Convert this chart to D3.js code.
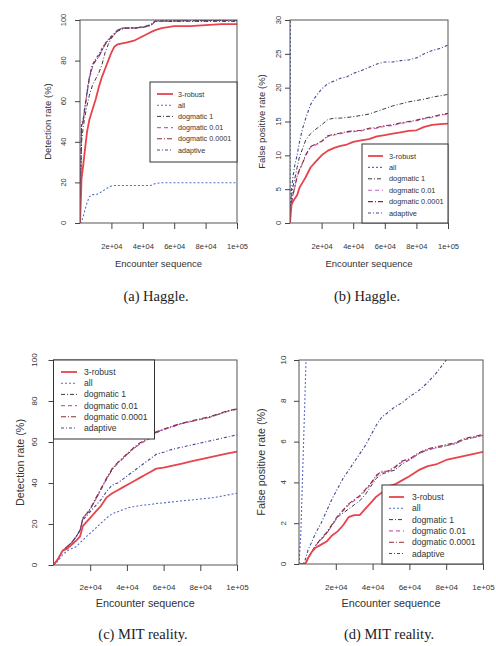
<!DOCTYPE html>
<html>
<head>
<meta charset="utf-8">
<script src="https://cdn.jsdelivr.net/npm/d3@7/dist/d3.min.js"></script>
<style>
  html, body { margin: 0; padding: 0; background: #ffffff; }
  svg { display: block; }
</style>
</head>
<body>
<svg id="chart" width="496" height="646"></svg>
<script>
// ---------------- DATA ----------------
const seriesNames = ["3-robust", "all", "dogmatic 1", "dogmatic 0.01", "dogmatic 0.0001", "adaptive"];
const xTickValues = [20000, 40000, 60000, 80000, 100000];
const xTickLabels = ["2e+04", "4e+04", "6e+04", "8e+04", "1e+05"];
const detTicks = [0, 20, 40, 60, 80, 100];
const fprHaggleTicks = [0, 5, 10, 15, 20, 25, 30];
const fprMitTicks = [0, 2, 4, 6, 8, 10];

// (a) Haggle detection rate
const hagDetX = [0, 500, 1000, 2000, 3000, 4500, 6000, 8000, 10000, 12000, 14000, 16000, 18000, 20000, 22000, 24000, 27000, 30000, 35000, 40000, 45000, 48000, 52000, 60000, 70000, 80000, 90000, 100000];
const hagDetRobust = [0, 10, 22, 28, 35, 45, 51, 56, 61, 67, 72, 76, 80, 84, 87, 88, 88.5, 89, 90, 92, 94, 95, 96, 97, 97, 97.5, 98, 98];
const hagDetAll = [0, 0, 1, 3, 6, 10, 13, 14, 14, 14.5, 15.5, 16.5, 17.5, 18.2, 18.5, 18.5, 18.5, 18.5, 18.5, 18.5, 18.5, 19.5, 19.8, 19.8, 19.8, 19.8, 19.8, 19.8];
const hagDetDog1 = [0, 20, 40, 47, 52, 58, 63, 68, 71, 74, 78, 84, 88, 91, 93, 94.5, 95.5, 96, 96, 96.3, 97.2, 99.2, 99.3, 99.3, 99.3, 99.3, 99.3, 99.3];
const hagDetDog001 = [0, 24, 47, 50, 56, 64, 71, 77, 80, 82, 85, 88, 90, 91.5, 93, 95, 96, 96, 96, 96.5, 97.5, 99.4, 99.5, 99.5, 99.6, 99.6, 99.7, 99.7];
const hagDetDog00001 = [0, 25, 48, 50, 56, 64, 72, 78, 80, 82, 85, 88, 90, 91.5, 93, 95, 96, 96, 96, 96.5, 97.5, 99.5, 99.5, 99.5, 99.7, 99.7, 99.8, 99.8];
const hagDetAdaptive = [0, 26, 49, 51, 57, 65, 72, 78, 81, 83, 86, 88.5, 90.5, 92, 93.5, 95, 96, 96.2, 96.2, 96.7, 97.7, 99.6, 99.6, 99.6, 99.8, 99.8, 99.8, 99.8];

// (b) Haggle false positive rate
const hagFprX = [0, 500, 1000, 2000, 3000, 4500, 6000, 8000, 10000, 13000, 16000, 20000, 24000, 28000, 32000, 36000, 40000, 45000, 50000, 55000, 60000, 65000, 70000, 75000, 80000, 85000, 90000, 95000, 100000];
const hagFprRobust = [0, 1.5, 2.7, 3.2, 3.6, 4.1, 5.2, 6.0, 6.8, 8.2, 9.0, 10.0, 10.7, 11.1, 11.4, 11.6, 12.0, 12.2, 12.4, 12.8, 13.0, 13.2, 13.4, 13.6, 13.7, 14.2, 14.5, 14.6, 14.7];
const hagFprAll = [0, 45, 46, 47, 48, 49, 50, 51, 52, 53, 54, 55, 56, 57, 58, 59, 60, 61, 62, 63, 64, 65, 66, 67, 68, 69, 70, 71, 72];
const hagFprDog1 = [0, 2.5, 4, 5.5, 6.5, 8.2, 9.8, 11, 12.3, 13.2, 13.8, 14.5, 15.3, 15.5, 15.5, 15.6, 15.7, 15.9, 16.1, 16.5, 16.9, 17.3, 17.6, 17.9, 18.1, 18.3, 18.6, 18.8, 19.0];
const hagFprDog001 = [0, 2, 3, 4.2, 5.2, 6.8, 7.8, 8.8, 10.0, 11.2, 11.5, 12.0, 12.8, 13.0, 13.2, 13.4, 13.5, 13.6, 13.9, 14.0, 14.3, 14.4, 14.7, 14.9, 15.1, 15.4, 15.6, 15.9, 16.1];
const hagFprDog00001 = [0, 2, 3.1, 4.3, 5.3, 6.9, 7.9, 8.9, 10.1, 11.3, 11.6, 12.1, 12.9, 13.1, 13.3, 13.5, 13.6, 13.7, 14.0, 14.1, 14.4, 14.5, 14.8, 15.0, 15.2, 15.5, 15.7, 16.0, 16.2];
const hagFprAdaptive = [0, 3, 5, 7, 8.5, 10, 12, 14, 15.5, 17.5, 18.6, 19.8, 20.6, 21.0, 21.4, 21.6, 22.1, 22.5, 23.0, 23.5, 23.8, 23.8, 24.0, 24.1, 24.4, 25.0, 25.5, 25.8, 26.3];

// (c) MIT reality detection rate
const mitDetX = [0, 2500, 5000, 7500, 10000, 12500, 14500, 16000, 18000, 20000, 23000, 26000, 29000, 32000, 35000, 38000, 41000, 44000, 47000, 50000, 53000, 56000, 60000, 65000, 70000, 75000, 80000, 85000, 90000, 95000, 100000];
const mitDetRobust = [0, 3, 7, 8, 10, 12, 14, 19, 21, 23, 26, 29, 33, 35, 36.5, 38, 39.5, 41, 42.5, 44, 45.5, 47, 47.5, 48.5, 49.5, 50.5, 51.5, 52.5, 53.5, 54.5, 55.3];
const mitDetAll = [0, 2, 5, 7, 8, 9, 11, 12, 14, 15.5, 18, 20.5, 23, 25, 26, 27, 28, 28.5, 29, 29.3, 29.5, 30, 30.3, 30.8, 31.3, 31.7, 32.2, 32.6, 33.3, 34.2, 35];
const mitDetDog1 = [0, 3, 7, 9, 11, 14, 17, 22.5, 24.5, 27, 32, 37, 42, 46.5, 49.5, 52, 54.5, 57, 59, 60.5, 62, 64.5, 66, 67.5, 69, 70, 71, 72, 73.5, 75, 76];
const mitDetDog001 = [0, 3, 7, 9, 11, 14, 17, 23, 25, 27, 32, 37, 42, 47, 50, 52, 55, 57, 59, 60.5, 62, 65, 66, 67.5, 69, 70, 71, 72, 73.5, 75, 76];
const mitDetDog00001 = [0, 3, 7, 9, 11, 14, 17, 23, 25, 27.5, 32.5, 37.5, 42.5, 47, 50, 52.5, 55, 57.5, 59.5, 61, 62.5, 65, 66.3, 67.8, 69.2, 70.3, 71.3, 72.3, 73.8, 75.2, 76.2];
const mitDetAdaptive = [0, 3, 7, 9, 11, 14, 17, 22, 24, 26, 29, 32, 36, 39, 40, 42, 44, 46, 48, 50, 52, 54, 55, 56.5, 57.5, 58.5, 59.5, 60.5, 61.5, 62.5, 63.5];

// (d) MIT reality false positive rate
const mitFprX = [0, 1000, 2000, 3000, 4000, 5000, 7000, 9000, 12000, 15000, 18000, 21000, 24000, 27000, 30000, 33000, 36000, 39000, 42000, 45000, 48000, 52000, 56000, 60000, 65000, 70000, 75000, 80000, 85000, 90000, 95000, 100000];
const mitFprRobust = [0, 0, 0, 0, 0.1, 0.3, 0.6, 0.8, 0.95, 1.1, 1.4, 1.6, 1.9, 2.3, 2.4, 2.4, 2.7, 3.0, 3.3, 3.5, 3.8, 3.9, 4.1, 4.3, 4.6, 4.8, 4.9, 5.1, 5.2, 5.3, 5.4, 5.5];
const mitFprAll = [0, 1.5, 4.5, 7.5, 10.5, 13, 17, 20, 24, 27, 29, 31, 33, 34, 35, 36, 37, 38, 39, 40, 41, 42, 43, 44, 45, 46, 47, 48, 49, 50, 51, 52];
const mitFprDog1 = [0, 0, 0, 0, 0.1, 0.3, 0.6, 0.9, 1.2, 1.5, 1.9, 2.3, 2.5, 2.7, 2.9, 3.1, 3.4, 3.8, 4.2, 4.4, 4.5, 4.6, 4.9, 5.1, 5.4, 5.6, 5.7, 5.8, 5.9, 6.1, 6.2, 6.3];
const mitFprDog001 = [0, 0, 0, 0, 0.1, 0.3, 0.6, 0.9, 1.2, 1.5, 1.9, 2.3, 2.6, 2.9, 3.1, 3.3, 3.6, 3.9, 4.3, 4.5, 4.5, 4.7, 5.0, 5.1, 5.4, 5.6, 5.7, 5.8, 5.9, 6.1, 6.2, 6.3];
const mitFprDog00001 = [0, 0, 0, 0, 0.1, 0.3, 0.6, 0.9, 1.25, 1.55, 1.95, 2.35, 2.65, 2.95, 3.15, 3.35, 3.65, 3.95, 4.35, 4.55, 4.55, 4.75, 5.05, 5.15, 5.45, 5.65, 5.75, 5.85, 5.95, 6.15, 6.25, 6.35];
const mitFprAdaptive = [0, 0, 0, 0.1, 0.4, 0.7, 1.1, 1.5, 2.0, 2.6, 3.2, 3.7, 4.2, 4.6, 5.0, 5.4, 5.8, 6.3, 6.8, 7.2, 7.4, 7.7, 7.9, 8.2, 8.5, 8.9, 9.4, 10.0, 10.6, 11.2, 11.8, 12.4];

// ---------------- STYLES ----------------
const seriesStyles = [
  { color: "#e8434c", width: 1.8, dash: null },
  { color: "#5a6ec8", width: 1.1, dash: "2,2" },
  { color: "#3a3a3a", width: 1.0, dash: "4,2,1,2" },
  { color: "#c460c4", width: 1.1, dash: "4,3" },
  { color: "#8a2b3a", width: 1.1, dash: "5,2,1,2" },
  { color: "#404a8e", width: 1.1, dash: "3,2,1,2" }
];

const panels = [
  {
    id: "a", left: 80, right: 237, top: 20, bottom: 223, ymax: 100, yTicks: detTicks,
    ylab: "Detection rate (%)", yLabelX: 63, yTitleX: 47, xLabelY: 246, xTitleY: 263,
    caption: "(a) Haggle.", capX: 156, capY: 296, tickFs: 7.5, titleFs: 9.5,
    x: hagDetX, ys: [hagDetRobust, hagDetAll, hagDetDog1, hagDetDog001, hagDetDog00001, hagDetAdaptive],
    legend: { x: 150, y: 82, w: 87, h: 80, row0: 94, dy: 11.2, sx0: 157, sx1: 173, tx: 178, fs: 7.2 }
  },
  {
    id: "b", left: 290, right: 448, top: 20, bottom: 223, ymax: 30, yTicks: fprHaggleTicks,
    ylab: "False positive rate (%)", yLabelX: 278, yTitleX: 261, xLabelY: 246, xTitleY: 263,
    caption: "(b) Haggle.", capX: 367, capY: 296, tickFs: 7.5, titleFs: 9.5,
    x: hagFprX, ys: [hagFprRobust, hagFprAll, hagFprDog1, hagFprDog001, hagFprDog00001, hagFprAdaptive],
    legend: { x: 362, y: 144, w: 86, h: 79, row0: 156, dy: 11.4, sx0: 368, sx1: 383, tx: 389, fs: 7.4 }
  },
  {
    id: "c", left: 53.5, right: 237, top: 360, bottom: 565, ymax: 100, yTicks: detTicks,
    ylab: "Detection rate (%)", yLabelX: 34, yTitleX: 20, xLabelY: 587, xTitleY: 603,
    caption: "(c) MIT reality.", capX: 143, capY: 634, tickFs: 8, titleFs: 10.8,
    x: mitDetX, ys: [mitDetRobust, mitDetAll, mitDetDog1, mitDetDog001, mitDetDog00001, mitDetAdaptive],
    legend: { x: 53.5, y: 360, w: 101, h: 79, row0: 372, dy: 11.2, sx0: 61, sx1: 77, tx: 84, fs: 8.6 }
  },
  {
    id: "d", left: 299, right: 483, top: 360, bottom: 564, ymax: 10, yTicks: fprMitTicks,
    ylab: "False positive rate (%)", yLabelX: 283, yTitleX: 261, xLabelY: 587, xTitleY: 603,
    caption: "(d) MIT reality.", capX: 389, capY: 634, tickFs: 8, titleFs: 10.8,
    x: mitFprX, ys: [mitFprRobust, mitFprAll, mitFprDog1, mitFprDog001, mitFprDog00001, mitFprAdaptive],
    legend: { x: 382, y: 485, w: 101, h: 79, row0: 497, dy: 11.3, sx0: 389, sx1: 404, tx: 412, fs: 8.6 }
  }
];

// ---------------- DRAW ----------------
const svg = d3.select("#chart");
const sans = "'Liberation Sans', Arial, Helvetica, sans-serif";
const serif = "'Liberation Serif', 'Times New Roman', serif";
const axisColor = "#444";

panels.forEach(p => {
  const g = svg.append("g");
  const x = d3.scaleLinear().domain([0, 100000]).range([p.left, p.right]);
  const y = d3.scaleLinear().domain([0, p.ymax]).range([p.bottom, p.top]);

  const clipId = "clip-" + p.id;
  svg.append("clipPath").attr("id", clipId)
    .append("rect")
    .attr("x", p.left).attr("y", p.top)
    .attr("width", p.right - p.left).attr("height", p.bottom - p.top);

  const order = [1, 2, 3, 4, 5, 0];
  const lineGen = d3.line().x(d => x(d[0])).y(d => y(d[1]));
  order.forEach(si => {
    const pts = p.x.map((xv, i) => [xv, p.ys[si][i]]);
    const st = seriesStyles[si];
    g.append("path")
      .attr("clip-path", `url(#${clipId})`)
      .attr("d", lineGen(pts))
      .attr("fill", "none")
      .attr("stroke", st.color)
      .attr("stroke-width", st.width)
      .attr("stroke-dasharray", st.dash)
      .attr("stroke-linejoin", "round");
  });

  g.append("rect")
    .attr("x", p.left).attr("y", p.top)
    .attr("width", p.right - p.left).attr("height", p.bottom - p.top)
    .attr("fill", "none").attr("stroke", "#555").attr("stroke-width", 1);

  const xAxis = d3.axisBottom(x).tickValues(xTickValues)
    .tickFormat((d, i) => xTickLabels[i]).tickSize(6).tickPadding(0);
  const xg = g.append("g").attr("transform", `translate(0,${p.bottom})`).call(xAxis);
  xg.select(".domain").remove();
  xg.selectAll(".tick line").attr("stroke", axisColor);
  xg.selectAll(".tick text")
    .attr("y", p.xLabelY - p.bottom).attr("dy", "0.35em")
    .attr("fill", "#333").style("font-family", sans).style("font-size", p.tickFs + "px");

  const yAxis = d3.axisLeft(y).tickValues(p.yTicks).tickFormat("").tickSize(5);
  const yg = g.append("g").attr("transform", `translate(${p.left},0)`).call(yAxis);
  yg.select(".domain").remove();
  yg.selectAll(".tick line").attr("stroke", axisColor);
  g.selectAll(".ylab").data(p.yTicks).enter().append("text")
    .attr("transform", d => `translate(${p.yLabelX},${y(d)}) rotate(-90)`)
    .attr("text-anchor", "middle").attr("dominant-baseline", "central")
    .attr("fill", "#333").style("font-family", sans).style("font-size", p.tickFs + "px")
    .text(d => d);

  g.append("text")
    .attr("x", (p.left + p.right) / 2).attr("y", p.xTitleY)
    .attr("text-anchor", "middle").attr("dominant-baseline", "central")
    .attr("fill", "#333").style("font-family", sans).style("font-size", p.titleFs + "px")
    .text("Encounter sequence");
  g.append("text")
    .attr("transform", `translate(${p.yTitleX},${(p.top + p.bottom) / 2}) rotate(-90)`)
    .attr("text-anchor", "middle").attr("dominant-baseline", "central")
    .attr("fill", "#333").style("font-family", sans).style("font-size", p.titleFs + "px")
    .text(p.ylab);

  const L = p.legend;
  const lg = g.append("g");
  lg.append("rect")
    .attr("x", L.x).attr("y", L.y).attr("width", L.w).attr("height", L.h)
    .attr("fill", "#fff").attr("stroke", "#333").attr("stroke-width", 1);
  seriesNames.forEach((name, i) => {
    const yy = L.row0 + i * L.dy;
    const st = seriesStyles[i];
    lg.append("line")
      .attr("x1", L.sx0).attr("x2", L.sx1).attr("y1", yy).attr("y2", yy)
      .attr("stroke", st.color).attr("stroke-width", st.width)
      .attr("stroke-dasharray", st.dash);
    lg.append("text")
      .attr("x", L.tx).attr("y", yy).attr("dominant-baseline", "central")
      .attr("fill", "#333").style("font-family", sans).style("font-size", L.fs + "px")
      .text(name);
  });

  g.append("text")
    .attr("x", p.capX).attr("y", p.capY)
    .attr("text-anchor", "middle").attr("dominant-baseline", "central")
    .attr("fill", "#222").style("font-family", serif).style("font-size", "14.5px")
    .text(p.caption);
});
</script>
</body>
</html>
